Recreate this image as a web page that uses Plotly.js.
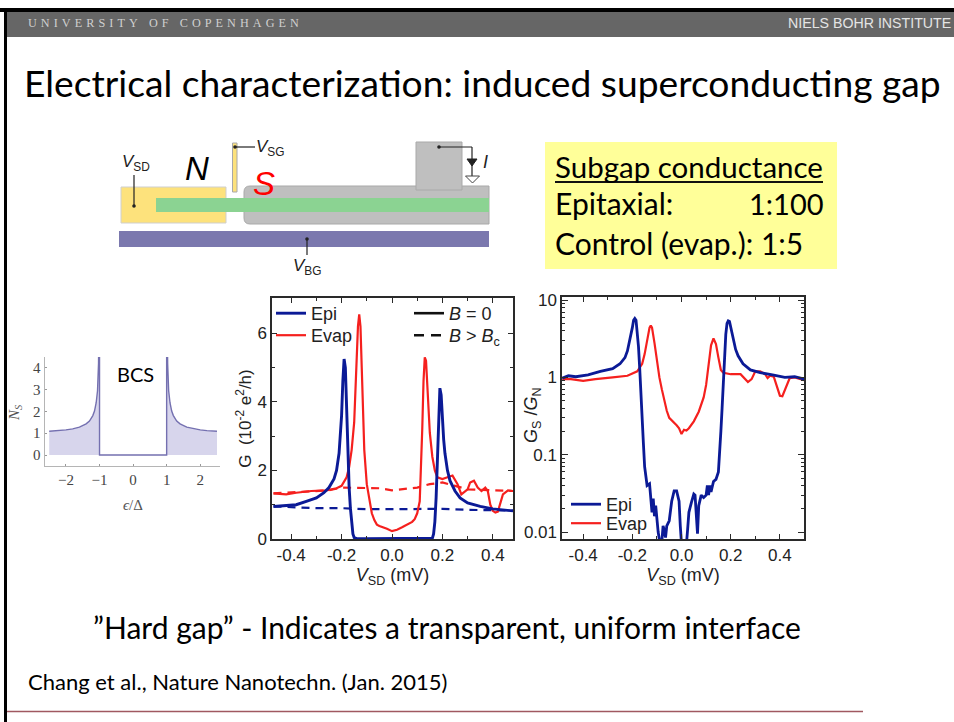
<!DOCTYPE html>
<html><head><meta charset="utf-8">
<script src="https://cdn.plot.ly/plotly-3.0.1.min.js"></script>
<style>html,body{margin:0;padding:0;background:#fff}#c{width:954px;height:722px}</style>
</head><body><div id="c"></div>
<script>
const gEpiX=[-0.47,-0.42,-0.38,-0.34,-0.3,-0.27,-0.25,-0.23,-0.22,-0.21,-0.2,-0.195,-0.19,-0.185,-0.18,-0.175,-0.17,-0.165,-0.16,-0.155,-0.15,-0.14,-0.1,-0.05,0,0.05,0.1,0.16,0.165,0.17,0.175,0.18,0.185,0.19,0.195,0.2,0.205,0.21,0.22,0.23,0.25,0.27,0.3,0.35,0.4,0.48];
const gEpiY=[0.95,0.97,1.0,1.1,1.2,1.35,1.5,1.75,2.0,2.5,3.6,4.6,5.25,5.0,3.6,2.5,1.5,0.9,0.4,0.15,0.04,0.01,0.01,0.01,0.02,0.01,0.01,0.02,0.15,0.5,1.2,2.4,3.6,4.4,4.2,3.3,2.9,2.5,2.0,1.7,1.4,1.2,1.05,0.95,0.88,0.82];
const gEvapX=[-0.47,-0.42,-0.38,-0.32,-0.26,-0.22,-0.2,-0.18,-0.17,-0.16,-0.15,-0.14,-0.135,-0.13,-0.125,-0.12,-0.115,-0.11,-0.1,-0.09,-0.08,-0.07,-0.06,-0.05,-0.04,-0.02,0,0.02,0.04,0.06,0.08,0.09,0.1,0.11,0.115,0.12,0.125,0.13,0.135,0.14,0.15,0.16,0.17,0.18,0.2,0.22,0.24,0.26,0.275,0.3,0.31,0.325,0.34,0.355,0.37,0.38,0.39,0.4,0.41,0.42,0.44,0.46,0.48];
const gEvapY=[1.33,1.3,1.35,1.4,1.42,1.48,1.55,1.8,2.1,2.6,3.4,5.2,6.2,6.55,6.2,5.0,3.8,2.6,1.6,1.1,0.75,0.55,0.42,0.38,0.36,0.3,0.23,0.27,0.34,0.42,0.5,0.58,0.75,1.1,2.0,3.2,4.6,5.3,5.2,4.4,3.1,2.4,2.0,1.8,1.75,1.8,1.85,1.6,1.3,1.45,1.65,1.7,1.5,1.4,1.5,1.4,1.0,0.82,0.77,0.8,1.3,1.42,1.4];
const gEpiNX=[-0.47,-0.4,-0.3,-0.2,-0.1,0,0.1,0.2,0.3,0.4,0.48];
const gEpiNY=[0.95,0.93,0.9,0.9,0.87,0.87,0.87,0.88,0.85,0.85,0.83];
const gEvapNX=[-0.47,-0.35,-0.25,-0.2,-0.13,-0.05,0,0.05,0.1,0.15,0.2,0.25,0.3,0.4,0.48];
const gEvapNY=[1.33,1.38,1.42,1.5,1.5,1.48,1.42,1.45,1.5,1.6,1.65,1.55,1.45,1.42,1.4];

const rEpiX=[-0.485,-0.46,-0.43,-0.38,-0.33,-0.28,-0.25,-0.23,-0.22,-0.21,-0.2,-0.195,-0.19,-0.185,-0.18,-0.175,-0.17,-0.165,-0.16,-0.155,-0.15,-0.145,-0.14,-0.13,-0.125,-0.12,-0.115,-0.11,-0.105,-0.1,-0.095,-0.09,-0.085,-0.08,-0.075,-0.07,-0.065,-0.06,-0.05,-0.04,-0.03,-0.02,-0.01,-0.005,0,0.01,0.02,0.025,0.03,0.04,0.05,0.055,0.06,0.065,0.07,0.08,0.09,0.1,0.105,0.11,0.115,0.12,0.13,0.14,0.15,0.155,0.16,0.165,0.17,0.175,0.18,0.185,0.19,0.195,0.2,0.21,0.22,0.23,0.25,0.28,0.32,0.37,0.42,0.46,0.5];
const rEpiY=[0.98,1.05,1.02,1.08,1.2,1.3,1.5,1.8,2.2,3,4.4,5.5,5.8,5.5,4,2.5,1.3,0.7,0.3,0.14,0.07,0.05,0.04,0.042,0.028,0.018,0.027,0.016,0.022,0.014,0.01,0.008,0.006,0.0075,0.012,0.0105,0.0085,0.012,0.014,0.025,0.034,0.034,0.025,0.012,0.007,0.006,0.007,0.011,0.018,0.024,0.031,0.03,0.015,0.0095,0.022,0.03,0.028,0.03,0.04,0.03,0.04,0.033,0.045,0.048,0.06,0.1,0.2,0.4,0.9,2,3.6,5,5.4,5.3,4.5,3,2.3,1.9,1.5,1.25,1.15,1.08,1,1.02,0.95];
const rEvapX=[-0.485,-0.45,-0.4,-0.35,-0.28,-0.22,-0.18,-0.16,-0.15,-0.14,-0.13,-0.125,-0.12,-0.11,-0.1,-0.09,-0.08,-0.07,-0.06,-0.05,-0.04,-0.02,-0.01,0,0.01,0.02,0.03,0.05,0.07,0.09,0.1,0.11,0.12,0.13,0.14,0.15,0.16,0.17,0.2,0.24,0.26,0.27,0.285,0.3,0.32,0.34,0.35,0.36,0.375,0.385,0.4,0.41,0.425,0.44,0.46,0.5];
const rEvapY=[0.95,0.95,0.9,0.95,1,1.05,1.2,1.5,2,3,4.4,4.7,4.4,2.8,1.6,1,0.7,0.5,0.37,0.3,0.28,0.24,0.22,0.185,0.21,0.205,0.22,0.27,0.36,0.55,0.8,1.5,2.6,3.2,2.7,1.8,1.25,1.15,1.1,1.1,0.95,0.87,0.95,1.2,1.2,1.1,0.98,1.05,1.02,0.8,0.58,0.57,0.75,0.98,1,0.92];

const bcsX=[-2.5,-2.2,-2,-1.8,-1.6,-1.4,-1.3,-1.2,-1.15,-1.1,-1.06,-1.03,-1.01,-1,-1,1,1,1.01,1.03,1.06,1.1,1.15,1.2,1.3,1.4,1.6,1.8,2,2.2,2.5];
const bcsY=[1.09,1.12,1.155,1.2,1.28,1.43,1.56,1.81,2.02,2.4,2.95,4.2,7,9,0,0,9,7,4.2,2.95,2.4,2.02,1.81,1.56,1.43,1.28,1.2,1.155,1.12,1.09];

const midTickVals=[-0.4,-0.2,0,0.2,0.4];
const midTickText=['-0.4','-0.2','0.0','0.2','0.4'];
const midMinorX=[-0.3,-0.1,0.1,0.3];
const gTickVals=[0,2,4,6];
const gTickText=['0','2','4','6'];
const gMinor=[1,3,5];
const ratioTickVals=[0.01,0.1,1,10];
const ratioTickText=['0.01','0.1','1','10'];
const ratioMinor=[0.02,0.03,0.04,0.05,0.06,0.07,0.08,0.09,0.2,0.3,0.4,0.5,0.6,0.7,0.8,0.9,2,3,4,5,6,7,8,9];
const bcsTickX=[-2,-1,0,1,2];
const bcsTickXText=['−2','−1','0','1','2'];
const bcsTickY=[0,1,2,3,4];

const NAVY='#0b1a96', RED='#f5201e', ARIAL='"Liberation Sans",Arial,sans-serif', BODY='Lato,sans-serif', SERIF='"Liberation Serif",serif';
const W=954,H=722;
const dx=(a,b)=>[a/W,b/W], dy=(top,bot)=>[1-bot/H,1-top/H];

const traces=[
 {x:bcsX,y:bcsY,xaxis:'x3',yaxis:'y3',mode:'lines',line:{color:'#7470b0',width:1.4},fill:'tozeroy',fillcolor:'rgba(130,125,195,0.32)',showlegend:false},
 {x:gEvapNX,y:gEvapNY,xaxis:'x',yaxis:'y',mode:'lines',line:{color:RED,width:2.2,dash:'8px,6px'},showlegend:false},
 {x:gEpiNX,y:gEpiNY,xaxis:'x',yaxis:'y',mode:'lines',line:{color:NAVY,width:2.2,dash:'8px,6px'},showlegend:false},
 {x:gEvapX,y:gEvapY,xaxis:'x',yaxis:'y',mode:'lines',line:{color:RED,width:2.2}, name:'Evap',legend:'legend2'},
 {x:gEpiX,y:gEpiY,xaxis:'x',yaxis:'y',mode:'lines',line:{color:NAVY,width:2.9}, name:'Epi',legend:'legend'},
 {x:[null],y:[null],xaxis:'x',yaxis:'y',mode:'lines',line:{color:'#111',width:2.6},name:'<i>B</i> = 0',legend:'legend3'},
 {x:[null],y:[null],xaxis:'x',yaxis:'y',mode:'lines',line:{color:'#111',width:2.6,dash:'10px,7px'},name:'<i>B</i> > <i>B</i><sub>c</sub>',legend:'legend4'},
 {x:rEvapX,y:rEvapY,xaxis:'x2',yaxis:'y2',mode:'lines',line:{color:RED,width:2.2},name:'Evap',legend:'legend6'},
 {x:rEpiX,y:rEpiY,xaxis:'x2',yaxis:'y2',mode:'lines',line:{color:NAVY,width:2.8},name:'Epi',legend:'legend5'}
];

const P=(x0,y0,x1,y1,fill,line,extra)=>Object.assign({type:'rect',xref:'x4',yref:'y4',x0,y0,x1,y1,fillcolor:fill,line:{color:line||fill,width:line?1:0},layer:'below'},extra||{});
const L=(x0,y0,x1,y1,color,width)=>({type:'line',xref:'x4',yref:'y4',x0,y0,x1,y1,line:{color:color,width:width},layer:'above'});
const Dot=(x,y)=>({type:'circle',xref:'x4',yref:'y4',x0:x-1.8,y0:y-1.8,x1:x+1.8,y1:y+1.8,fillcolor:'#222',line:{width:0},layer:'above'});
const Path=(d,fill,line)=>({type:'path',xref:'x4',yref:'y4',path:d,fillcolor:fill,line:{color:line,width:1},layer:'above'});
const shapes=[
 P(0,8,954,12,'#000'),
 P(4,8,7,722,'#000'),
 P(7,12,954,37,'#666666'),
 L(7,711.5,863,711.5,'#a05860',1.4),
 P(545,142,837,269,'#ffff99'),
 L(555,182,823,182,'#111',2),
 P(121,187,226,223,'#fde27c','#cfcfcf'),
 P(232.5,143,237,192,'#fde27c','#a8a8a8'),
 {type:'path',xref:'x4',yref:'y4',path:'M489,186 L250,186 Q244,186 244,192 L244,218 Q244,224 250,224 L489,224 Z',fillcolor:'#bfbfbf',line:{color:'#a9a9a9',width:1},layer:'below'},
 P(416,142,462,190,'#bfbfbf','#a9a9a9'),
 P(156,198,489,212,'#8bd392'),
 P(119,231,489,247,'#7b78ae'),
 L(134,175,134,206,'#222',1.2),Dot(134,206),
 L(235,147,255,147,'#222',1.2),Dot(235,147),
 L(439,147,472,147,'#222',1.2),Dot(439,147),
 L(472,147,472,176,'#222',1.2),
 Path('M467,159 L477,159 L472,166 Z','#222','#222'),
 Path('M465.5,176 L479.5,176 L472.5,183 Z','#fff','#444'),
 L(307,239,307,255,'#222',1.2),Dot(307,239)
];

const T=(x,y,text,size,color,anchor,family,extra)=>Object.assign({xref:'x4',yref:'y4',x,y,text,showarrow:false,xanchor:anchor||'left',yanchor:'middle',font:{size,color:color||'#000',family:family||BODY}},extra||{});
const hs='\u2004';
const annotations=[
 T(26,23,'UNIVERSITY OF COPENHAGEN'.split('').join(hs),12.2,'#d0d0d0','left',SERIF),
 T(953,23,'NIELS BOHR INSTITUTE',14.2,'#e4e4e4','right',ARIAL),
 T(482,82,'Electrical characterization: induced superconducting gap',37.2,'#000','center'),
 T(447,627,'”Hard gap” - Indicates a transparent, uniform interface',30,'#000','center'),
 T(26,681,'Chang et al., Nature Nanotechn. (Jan. 2015)',22,'#000'),
 T(553,166,'Subgap conductance',29.5),
 T(553,203,'Epitaxial:',30),
 T(826,203,'1:100',29,'#000','right'),
 T(553,243,'Control (evap.): 1:5',30),
 T(120,163,'<i>V</i><sub>SD</sub>',17,'#222','left',ARIAL),
 T(197,168,'<i>N</i>',33,'#000','center',ARIAL),
 T(264,183,'<i>S</i>',33,'#f00','center',ARIAL),
 T(254,148,'<i>V</i><sub>SG</sub>',17,'#222','left',ARIAL),
 T(481,162,'<i>I</i>',18,'#222','left',ARIAL),
 T(291,267,'<i>V</i><sub>BG</sub>',17,'#222','left',ARIAL),
 T(135,374,'BCS',20,'#000','center',BODY),
 T(133,505,'<i>ϵ</i>/Δ',15,'#555','center',SERIF),
 T(15,413,'<i>N<sub>S</sub></i>',15,'#555','center',SERIF,{textangle:-90}),
 T(532,415,'<i>G</i><sub>S</sub> /<i>G</i><sub>N</sub>',18,'#222','center',ARIAL,{textangle:-90})
];

const frame={showline:true,linecolor:'#2a2a2a',linewidth:1.6,mirror:'ticks',ticks:'inside',tickcolor:'#2a2a2a',zeroline:false,showgrid:false,
  tickfont:{family:ARIAL,size:17,color:'#222'}};
const ax=(o)=>Object.assign(JSON.parse(JSON.stringify(frame)),o);
const legendBase={bgcolor:'rgba(0,0,0,0)',borderwidth:0,xanchor:'left',yanchor:'top',font:{family:ARIAL,size:18,color:'#222'},itemwidth:30,itemclick:false,itemdoubleclick:false};
const leg=(px,py)=>Object.assign({},legendBase,{x:px/W,y:1-py/H});
const xTitle={text:'<i>V</i><sub>SD</sub> (mV)',standoff:3,font:{family:ARIAL,size:18,color:'#222'}};

const layout={
 width:W,height:H,margin:{l:0,r:0,t:0,b:0,pad:0},paper_bgcolor:'rgba(255,255,255,1)',plot_bgcolor:'rgba(0,0,0,0)',showlegend:true,
 shapes,annotations,
 legend:leg(271,295),legend2:leg(271,317),legend3:leg(409,295),legend4:leg(409,317),legend5:leg(566,486),legend6:leg(566,505),
 xaxis4:{domain:[0,1],range:[0,W],visible:false,anchor:'y4',fixedrange:true},
 yaxis4:{domain:[0,1],range:[H,0],visible:false,anchor:'x4',fixedrange:true},
 xaxis:ax({domain:dx(272,513),anchor:'y',range:[-0.476,0.48],tickmode:'array',tickvals:midTickVals,ticktext:midTickText,ticklen:5,minor:{ticks:'inside',ticklen:3,tickvals:midMinorX,tickcolor:'#2a2a2a'},title:xTitle}),
 yaxis:ax({domain:dy(298,539),anchor:'x',range:[0,7.03],tickmode:'array',tickvals:gTickVals,ticktext:gTickText,ticklen:5,minor:{ticks:'inside',ticklen:3,tickvals:gMinor,tickcolor:'#2a2a2a'},title:{text:'G  (10<sup>-2</sup> e<sup>2</sup>/h)',standoff:1,font:{family:ARIAL,size:17,color:'#222'}}}),
 xaxis2:ax({domain:dx(562,804),anchor:'y2',range:[-0.486,0.498],tickmode:'array',tickvals:midTickVals,ticktext:midTickText,ticklen:5,minor:{ticks:'inside',ticklen:3,tickvals:midMinorX,tickcolor:'#2a2a2a'},title:xTitle}),
 yaxis2:ax({domain:dy(297,539),anchor:'x2',type:'log',range:[-2.09,1.04],tickmode:'array',tickvals:ratioTickVals,ticktext:ratioTickText,ticklen:6,minor:{ticks:'inside',ticklen:3,tickvals:ratioMinor,tickcolor:'#2a2a2a'}}),
 xaxis3:{domain:dx(44.5,220),anchor:'y3',range:[-2.64,2.59],showline:true,linecolor:'#b5b5b5',linewidth:1,zeroline:false,showgrid:false,ticks:'inside',ticklen:2,tickcolor:'#999',tickmode:'array',tickvals:bcsTickX,ticktext:bcsTickXText,tickfont:{family:SERIF,size:15,color:'#444'}},
 yaxis3:{domain:dy(357,465.7),anchor:'x3',range:[-0.49,4.5],showline:true,linecolor:'#b5b5b5',linewidth:1,zeroline:false,showgrid:false,ticks:'inside',ticklen:2,tickcolor:'#999',tickmode:'array',tickvals:bcsTickY,tickfont:{family:SERIF,size:15,color:'#444'}}
};
Plotly.newPlot('c',traces,layout,{displayModeBar:false,staticPlot:true});
</script></body></html>
